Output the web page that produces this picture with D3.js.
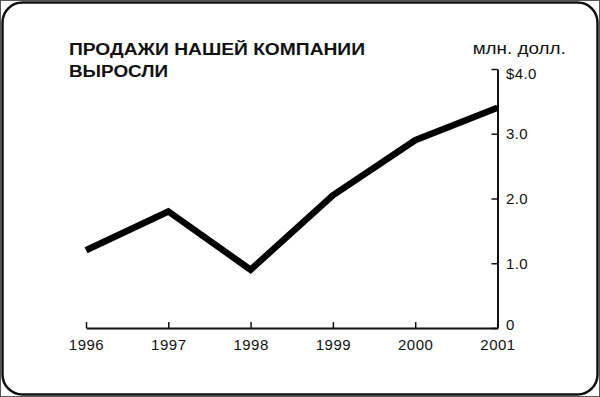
<!DOCTYPE html>
<html>
<head>
<meta charset="utf-8">
<script src="https://cdn.jsdelivr.net/npm/d3@7"></script>
<style>
  body { margin: 0; background: #fff; }
  svg { display: block; font-family: "Liberation Sans", Arial, sans-serif; }
</style>
</head>
<body>
<script>
// chart data
const years = ['1996', '1997', '1998', '1999', '2000', '2001']
const sales = [1.2, 1.8, 0.9, 2.05, 2.9, 3.4]
const yTicks = [0, 1, 2, 3, 4]
const titleLines = ['ПРОДАЖИ НАШЕЙ КОМПАНИИ', 'ВЫРОСЛИ']
const unitLabel = 'млн. долл.'

const W = 600, H = 397

const svg = d3.select('body').append('svg').attr('width', W).attr('height', H)

// frame
svg.append('rect')
	.attr('x', 0.5).attr('y', 0.5).attr('width', W - 1).attr('height', H - 1)
	.attr('fill', 'none').attr('stroke', '#555').attr('stroke-width', 1)
svg.append('rect')
	.attr('x', 2.5).attr('y', 2.5).attr('width', 595).attr('height', 392)
	.attr('rx', 20).attr('ry', 20)
	.attr('fill', '#fff').attr('stroke', '#111').attr('stroke-width', 2.5)

const x = d3.scalePoint().domain(years).range([86, 497.5])
const y = d3.scaleLinear().domain([0, 4]).range([328, 69])

// title
svg.selectAll('text.title')
	.data(titleLines)
	.enter().append('text')
		.attr('class', 'title')
		.attr('x', 69)
		.attr('y', (d, i) => 54.5 + i * 22.5)
		.attr('textLength', (d, i) => i === 0 ? 296 : 99)
		.attr('lengthAdjust', 'spacingAndGlyphs')
		.attr('font-size', 16)
		.attr('font-weight', 'bold')
		.attr('fill', '#111')
		.text((d) => d)

svg.append('text')
	.attr('x', 472.7).attr('y', 54.3)
	.attr('textLength', 93).attr('lengthAdjust', 'spacingAndGlyphs')
	.attr('font-size', 16).attr('fill', '#111')
	.text(unitLabel)

// y axis on the right, ticks pointing in
const yAxis = d3.axisRight(y)
	.tickValues(yTicks)
	.tickSizeInner(-6)
	.tickSizeOuter(0)
	.tickPadding(8.5)
	.tickFormat((d) => d === 0 ? '0' : d === 4 ? '$4.0' : d3.format('.1f')(d))

const gy = svg.append('g')
	.attr('transform', 'translate(497.5,0)')
	.call(yAxis)
	.attr('font-family', '"Liberation Sans", Arial, sans-serif')
gy.select('.domain').attr('stroke', '#111').attr('stroke-width', 2)
gy.selectAll('.tick line').attr('stroke', '#111').attr('stroke-width', 1.5)
gy.selectAll('.tick text')
	.attr('font-size', 15).attr('fill', '#111').attr('letter-spacing', 0.4)
	.attr('dy', (d) => d === 4 ? '0.62em' : d === 0 ? '0.12em' : '0.32em')

// x axis, ticks pointing up
const xAxis = d3.axisBottom(x).tickSizeInner(-6).tickSizeOuter(0).tickPadding(11)

const gx = svg.append('g')
	.attr('transform', 'translate(0,328)')
	.call(xAxis)
	.attr('font-family', '"Liberation Sans", Arial, sans-serif')
gx.select('.domain').attr('stroke', '#111').attr('stroke-width', 2)
gx.selectAll('.tick line').attr('stroke', '#111').attr('stroke-width', 1.5)
gx.selectAll('.tick text').attr('font-size', 15).attr('fill', '#111').attr('letter-spacing', 0.5)

// sales line
const line = d3.line()
	.x((d, i) => x(years[i]))
	.y((d) => y(d))

svg.append('path')
	.datum(sales)
	.attr('d', line)
	.attr('fill', 'none')
	.attr('stroke', '#000')
	.attr('stroke-width', 6.5)
	.attr('stroke-linejoin', 'miter')
</script>
</body>
</html>
